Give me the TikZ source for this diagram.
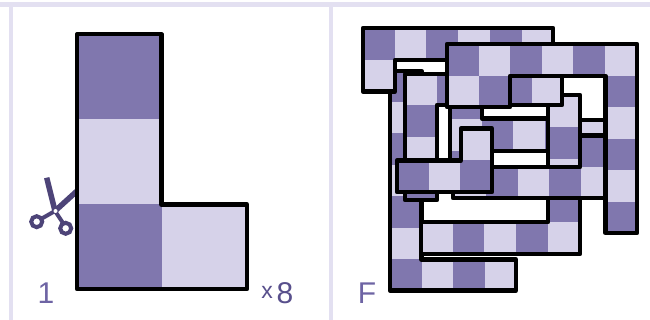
\documentclass[tikz,border=0pt]{standalone}
\usepackage{fontspec}
\setsansfont{Liberation Sans}
\definecolor{cellD}{RGB}{128, 119, 174}
\definecolor{cellL}{RGB}{214, 210, 233}
\definecolor{frameC}{RGB}{227, 224, 241}
\definecolor{toolC}{RGB}{77, 68, 120}
\definecolor{labelC}{RGB}{110, 100, 164}
\definecolor{countC}{RGB}{88, 79, 140}
\tikzset{
  pieceEdge/.style={draw=black,line width=4.3pt,line join=round},
  bladeLine/.style={draw=toolC,line width=5.5pt},
  handleLine/.style={draw=toolC,line width=4pt},
  panelBand/.style={fill=frameC},
  bigLabel/.style={inner sep=0pt,font=\sffamily\fontsize{30}{30}\selectfont}
}
% outline, corner of a dark cell (x,y), cell size
\newcommand{\piece}[4]{
  \begin{scope}
    \clip #1;
    \fill [cellL] (0,0) rectangle (650,320);
    \foreach \i in {-3,...,7} {
      \foreach \j in {-7,...,7} {
        \pgfmathparse{int(mod(\i+\j+100,2))}
        \ifnum\pgfmathresult=0
          \fill [cellD] ({#2+\i*#4},{#3+\j*#4}) rectangle +(#4,#4);
        \fi
      }
    }
  \end{scope}
  \draw [pieceEdge] #1;
}
\begin{document}
\begin{tikzpicture}[x=1pt,y=-1pt]
    \useasboundingbox (0,0) rectangle (650,320);
    \fill [white] (0,0) rectangle (650,320);

    \fill [panelBand] (0,2) rectangle (650,7);
    \fill [panelBand] (9,2) rectangle (13,320);
    \fill [panelBand] (329,2) rectangle (333,320);

    % scissors
    \draw [bladeLine] (46.7,177.7) -- (55,211);
    \draw [bladeLine] (55,211) -- (77,191);
    \draw [handleLine] (55,211) -- (41,219);
    \draw [handleLine] (55,211) -- (63,223);
    \draw [handleLine] (36.7,221.7) circle (5.5);
    \draw [handleLine] (65.7,228.3) circle (5.5);
    \fill [white] (55.5,211) circle (2);

    % the single piece
    \piece{(77,34.3) -- (161.5,34.3) -- (161.5,204.5) -- (247,204.5) -- (247,289) -- (77,289) -- cycle}{77}{34.3}{84.9}

    % the eight copies, back to front
    \piece{(390,71) -- (421.5,71) -- (421.5,259.5) -- (516,259.5) -- (516,290.5) -- (390,290.5) -- cycle}{390}{259.5}{31.5}
    \draw [pieceEdge,fill=cellL] (575,120) rectangle (612,140);
    \piece{(450,88) -- (482,88) -- (482,118.5) -- (548,118.5) -- (548,151) -- (482,151) -- (482,183) -- (450,183) -- cycle}{450}{88}{31.5}
    \piece{(421,222) -- (548,222) -- (548,95) -- (580,95) -- (580,254) -- (421,254) -- cycle}{516}{222.5}{31.7}
    \piece{(453,167) -- (580,167) -- (580,135.5) -- (612,135.5) -- (612,198) -- (453,198) -- cycle}{549}{167}{31.5}
    \piece{(405,74) -- (562,74) -- (562,105) -- (437,105) -- (437,200) -- (405,200) -- cycle}{437}{74}{31.5}
    \piece{(363,28) -- (553,28) -- (553,60) -- (395,60) -- (395,91.5) -- (363,91.5) -- cycle}{363}{28}{31.7}
    \piece{(447,44) -- (637,44) -- (637,233) -- (605.5,233) -- (605.5,76) -- (510,76) -- (510,107) -- (447,107) -- cycle}{447}{44}{31.6}
    \piece{(397,160.5) -- (461,160.5) -- (461,128.5) -- (492,128.5) -- (492,192) -- (397,192) -- cycle}{397}{160.5}{31.7}

    \node [bigLabel,text=labelC] (countOne) at (46,293) {1};
    \node [bigLabel,text=countC,font=\sffamily\fontsize{23}{23}\selectfont] (timesMark) at (267,292) {x};
    \node [bigLabel,text=countC] (countEight) at (285,293) {8};
    \node [bigLabel,text=labelC] (finalMark) at (367,293) {F};
\end{tikzpicture}
\end{document}
